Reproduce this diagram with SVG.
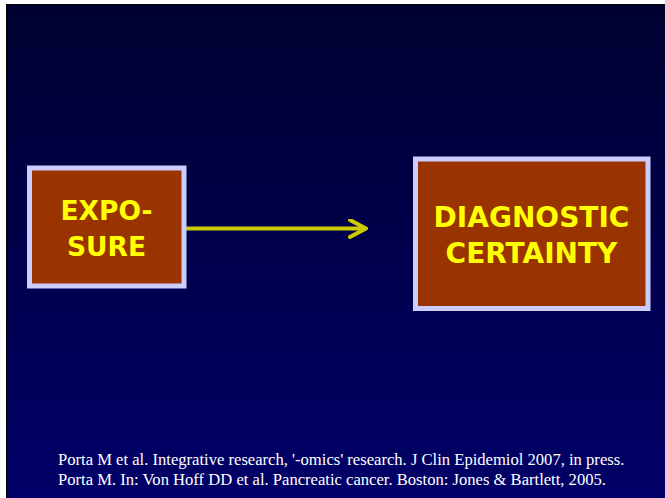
<svg xmlns="http://www.w3.org/2000/svg" width="665" height="498" viewBox="0 0 665 498">
  <defs>
    <linearGradient id="bg" x1="0" y1="0" x2="0" y2="1">
      <stop offset="0" stop-color="#000030"/>
      <stop offset="1" stop-color="#000068"/>
    </linearGradient>
    <marker id="chevron" viewBox="0 0 20 20" refX="18" refY="10" markerWidth="20" markerHeight="20" markerUnits="userSpaceOnUse" orient="auto">
      <polyline points="2,1.5 18,10 2,18.5" fill="none" stroke="#CCCC00" stroke-width="4" stroke-linecap="round" stroke-linejoin="round"/>
    </marker>
  </defs>
  <style>
    .box { fill: #993300; stroke: #CCCCFF; stroke-width: 5; }
    .label { font-family: "DejaVu Sans", Verdana, sans-serif; font-weight: bold; font-size: 28px; fill: #FFFF00; text-anchor: middle; }
    .small { font-size: 26.5px; }
    .ref { font-family: "Liberation Serif", "Times New Roman", serif; font-size: 16.6px; fill: #FFFFFF; }
    .link { stroke: #CCCC00; stroke-width: 4; fill: none; }
  </style>

  <!-- page background -->
  <rect x="0" y="0" width="665" height="498" fill="#FFFFFF"/>
  <rect x="6" y="4" width="659" height="494" fill="#000000"/>
  <rect x="7" y="5" width="658" height="493" fill="url(#bg)"/>

  <g id="connectors">
    <line class="link" x1="186" y1="228.5" x2="366" y2="228.5" marker-end="url(#chevron)"/>
  </g>

  <g id="exposure">
    <rect class="box" x="29.5" y="168" width="154.5" height="118"/>
    <text class="label small" x="106.5" y="220">EXPO-</text>
    <text class="label small" x="106.5" y="256">SURE</text>
  </g>

  <g id="diagnostic-certainty">
    <rect class="box" x="415.5" y="159" width="232.5" height="149.5"/>
    <text class="label" x="531.5" y="226.5">DIAGNOSTIC</text>
    <text class="label" x="531.5" y="263">CERTAINTY</text>
  </g>

  <g id="references">
    <text class="ref" x="58" y="464.5">Porta M et al. Integrative research, '-omics' research. J Clin Epidemiol 2007, in press.</text>
    <text class="ref" x="58" y="484.5">Porta M. In: Von Hoff DD et al. Pancreatic cancer. Boston: Jones &amp; Bartlett, 2005.</text>
  </g>
</svg>
